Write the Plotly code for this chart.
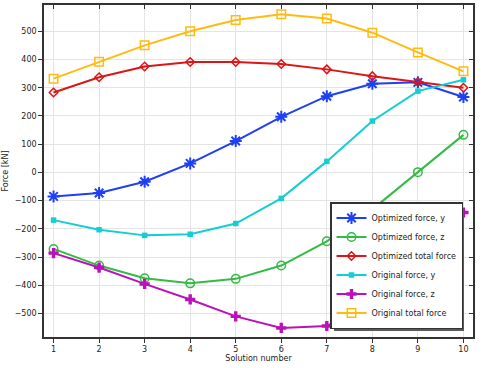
import plotly.graph_objects as go

solution = [1, 2, 3, 4, 5, 6, 7, 8, 9, 10]
opt_y = [-85, -73, -33, 32, 111, 197, 270, 314, 319, 267]
opt_z = [-271, -330, -375, -393, -377, -330, -244, -131, 1, 133]
opt_total = [283, 337, 375, 391, 391, 384, 365, 341, 320, 300]
orig_y = [-169, -203, -223, -219, -181, -92, 39, 182, 288, 328]
orig_z = [-286, -337, -395, -450, -510, -551, -544, -465, -340, -142]
orig_total = [332, 392, 450, 500, 540, 560, 545, 495, 425, 358]

x_ticks = [1, 2, 3, 4, 5, 6, 7, 8, 9, 10]
y_ticks = [-500, -400, -300, -200, -100, 0, 100, 200, 300, 400, 500]

series = [
    ("Optimized force, y", opt_y, "#1f3ff2", "asterisk-open", 10, 2),
    ("Optimized force, z", opt_z, "#33bb44", "circle-open", 8.5, 1.5),
    ("Optimized total force", opt_total, "#dd1515", "diamond-open", 6.5, 1.5),
    ("Original force, y", orig_y, "#11cfd2", "square", 5.5, 0),
    ("Original force, z", orig_z, "#bb11bb", "cross", 8.5, 0),
    ("Original total force", orig_total, "#ffbb11", "square-open", 8.5, 1.5),
]

fig = go.Figure()
for name, vals, col, sym, size, lw in series:
    fig.add_trace(go.Scatter(
        x=solution, y=vals, name=name, mode="lines+markers",
        line=dict(color=col, width=2),
        marker=dict(symbol=sym, size=size, color=col, line=dict(color=col, width=lw)),
    ))

# helper trace for inward ticks on top/right
fig.add_trace(go.Scatter(x=[None], y=[None], xaxis="x2", yaxis="y2",
                         showlegend=False, hoverinfo="skip"))

xr = [0.79, 10.21]
yr = [-583, 593]
fnt = dict(family="DejaVu Sans", size=8, color="#222")

W, H = 487, 368
ML, MR, MT, MB = 44, 14, 5, 31
pw, ph = W - ML - MR, H - MT - MB


def px_x(p):
    return (p - ML) / pw


def px_y(p):
    return (H - MB - p) / ph


shadow = "#5a5a5a"
fig.update_layout(
    width=W, height=H,
    margin=dict(l=ML, r=MR, t=MT, b=MB, autoexpand=False),
    paper_bgcolor="white", plot_bgcolor="white",
    font=fnt,
    xaxis=dict(range=xr, tickvals=x_ticks, ticks="outside", ticklen=4, tickcolor="#333",
               showline=True, linecolor="#333", linewidth=1.5, mirror=True,
               showgrid=True, gridcolor="#e4e4e4", zeroline=False,
               title=dict(text="Solution number", standoff=0, font=fnt), tickfont=fnt),
    yaxis=dict(range=yr, tickvals=y_ticks, ticks="outside", ticklen=4, tickcolor="#333",
               showline=True, linecolor="#333", linewidth=1.5, mirror=True,
               showgrid=True, gridcolor="#e4e4e4", zeroline=False,
               title=dict(text="Force [kN]", standoff=5, font=fnt), tickfont=fnt),
    xaxis2=dict(range=xr, tickvals=x_ticks, overlaying="x", side="top", ticks="inside",
                ticklen=4, tickcolor="#333", showticklabels=False, showgrid=False,
                zeroline=False, showline=False),
    yaxis2=dict(range=yr, tickvals=y_ticks, overlaying="y", side="right", ticks="inside",
                ticklen=4, tickcolor="#333", showticklabels=False, showgrid=False,
                zeroline=False, showline=False),
    legend=dict(x=px_x(330), y=px_y(329), xanchor="left", yanchor="bottom",
                bgcolor="white", bordercolor="#333", borderwidth=1.5,
                font=dict(family="DejaVu Sans", size=8, color="#222"),
                tracegroupgap=0, itemwidth=30),
    showlegend=True,
    shapes=[
        dict(type="rect", xref="paper", yref="paper", layer="above",
             x0=px_x(450), x1=px_x(464), y0=px_y(331), y1=px_y(212),
             fillcolor=shadow, line=dict(width=0)),
        dict(type="rect", xref="paper", yref="paper", layer="above",
             x0=px_x(334), x1=px_x(464), y0=px_y(331), y1=px_y(320),
             fillcolor=shadow, line=dict(width=0)),
    ],
)

fig.write_html("out.html", config={"displayModeBar": False},
               post_script="document.body.style.margin='0';")
